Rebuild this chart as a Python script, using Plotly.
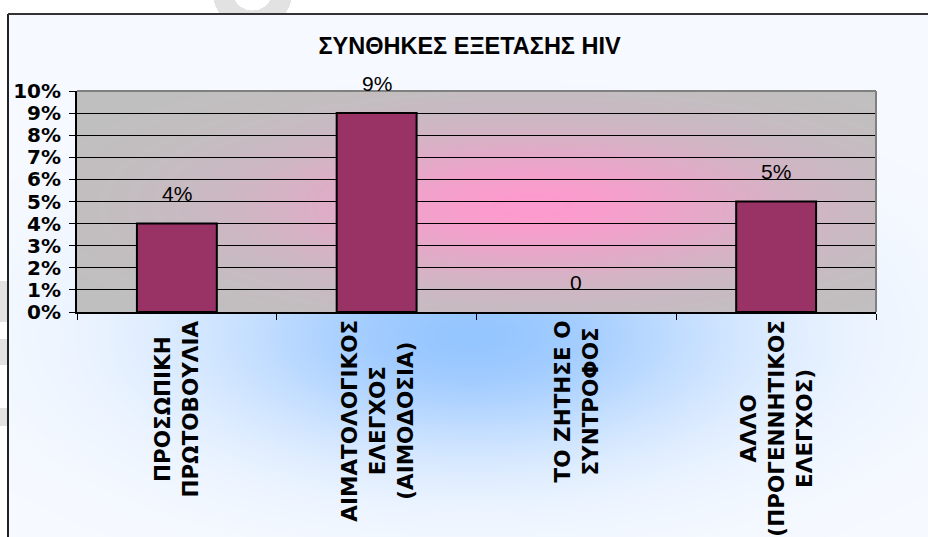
import base64
import struct
import zlib

import numpy as np
import plotly.graph_objects as go

# ---- data -------------------------------------------------------------
categories = [
    "ΠΡΟΣΩΠΙΚΗ ΠΡΩΤΟΒΟΥΛΙΑ",
    "ΑΙΜΑΤΟΛΟΓΙΚΟΣ ΕΛΕΓΧΟΣ (ΑΙΜΟΔΟΣΙΑ)",
    "ΤΟ ΖΗΤΗΣΕ Ο ΣΥΝΤΡΟΦΟΣ",
    "ΑΛΛΟ (ΠΡΟΓΕΝΝΗΤΙΚΟΣ ΕΛΕΓΧΟΣ)",
]
category_labels = [
    "ΠΡΟΣΩΠΙΚΗ<br>ΠΡΩΤΟΒΟΥΛΙΑ",
    "ΑΙΜΑΤΟΛΟΓΙΚΟΣ<br>ΕΛΕΓΧΟΣ<br>(ΑΙΜΟΔΟΣΙΑ)",
    "ΤΟ ΖΗΤΗΣΕ Ο<br>ΣΥΝΤΡΟΦΟΣ",
    "ΑΛΛΟ<br>(ΠΡΟΓΕΝΝΗΤΙΚΟΣ<br>ΕΛΕΓΧΟΣ)",
]
shares = [0.04, 0.09, 0.0, 0.05]
share_labels = ["4%", "9%", "0", "5%"]
y_ticks = [i / 100 for i in range(11)]
chart_title = "ΣΥΝΘΗΚΕΣ ΕΞΕΤΑΣΗΣ HIV"

# ---- page geometry (pixels) ------------------------------------------
W, H = 928, 537
ML, MR, MT, MB = 77, 52, 91, 225
PW, PH = W - ML - MR, H - MT - MB
FRAME_X, FRAME_Y = 8, 14


def px_to_paper_x(px):
    return (px - ML) / PW


def px_to_paper_y(py):
    return (H - MB - py) / PH


def png_uri(rgb):
    """Encode an HxWx3 uint8 array as a PNG data URI."""
    h, w, _ = rgb.shape
    flat = rgb.reshape(h, w * 3).astype(np.int16)
    diff = flat.copy()
    diff[:, 3:] = flat[:, 3:] - flat[:, :-3]
    raw = np.zeros((h, 1 + w * 3), dtype=np.uint8)
    raw[:, 0] = 1
    raw[:, 1:] = (diff % 256).astype(np.uint8)

    def chunk(tag, data):
        return (struct.pack(">I", len(data)) + tag + data
                + struct.pack(">I", zlib.crc32(tag + data) & 0xFFFFFFFF))

    png = (b"\x89PNG\r\n\x1a\n"
           + chunk(b"IHDR", struct.pack(">IIBBBBB", w, h, 8, 2, 0, 0, 0))
           + chunk(b"IDAT", zlib.compress(raw.tobytes(), 9))
           + chunk(b"IEND", b""))
    return "data:image/png;base64," + base64.b64encode(png).decode()


def blend(base, glow, weight):
    base = np.array(base, dtype=float)
    glow = np.array(glow, dtype=float)
    return base[None, None, :] * (1 - weight[..., None]) + glow[None, None, :] * weight[..., None]


# page backdrop: pale sheet with a soft blue glow under the plot
yy, xx = np.mgrid[0:H, 0:W].astype(float)
w_blue = np.exp(-(((xx - 470) / 270) ** 2 + ((yy - 335) / 120) ** 2))
page = blend((247, 250, 255), (150, 198, 255), w_blue)
outside = (xx < FRAME_X) | (yy < FRAME_Y)
page[outside] = 255
# faint watermark strokes left of / above the frame
ring_d = np.hypot(xx - 252, yy + 10)
wm = outside & (ring_d > 20) & (ring_d < 40)
wm |= (xx < 7) & (((yy > 280) & (yy < 322)) | ((yy > 338) & (yy < 365)) | ((yy > 407) & (yy < 426)))
page[wm] = 226
page_img = np.clip(page, 0, 255).astype(np.uint8)

# plot area fill: grey with a pink glow
ph, pw = 221, 799
vv, uu = np.mgrid[0:ph, 0:pw].astype(float)
w_pink = np.exp(-(((uu - 455) / 250) ** 2 + ((vv - 115) / 72) ** 2))
plot_fill = np.clip(blend((192, 192, 192), (253, 155, 206), w_pink), 0, 255).astype(np.uint8)

fig = go.Figure()
fig.add_trace(go.Bar(
    x=categories,
    y=shares,
    marker=dict(
        color="#993366",
        line=dict(color="#000000", width=[2 if v > 0 else 0 for v in shares]),
    ),
    hoverinfo="skip",
))

annotations = []
for cat, val, lab in zip(categories, shares, share_labels):
    annotations.append(dict(
        x=cat, y=val, xref="x", yref="y", text=lab, showarrow=False,
        yshift=30, yanchor="middle",
        font=dict(family="Liberation Sans, Arial, sans-serif", size=21, color="#000000"),
    ))
for cat, lab in zip(categories, category_labels):
    annotations.append(dict(
        x=cat, y=0, xref="x", yref="paper", text=lab, showarrow=False,
        textangle=-90, align="center", xanchor="center", yanchor="top", yshift=-6,
        font=dict(family="DejaVu Sans, sans-serif", size=21.5, color="#000000", weight="bold"),
    ))

shapes = [
    # chart frame (left and top edges)
    dict(type="line", xref="paper", yref="paper",
         x0=px_to_paper_x(FRAME_X), x1=px_to_paper_x(FRAME_X),
         y0=px_to_paper_y(FRAME_Y), y1=px_to_paper_y(H + 5),
         line=dict(color="#222222", width=2)),
    dict(type="line", xref="paper", yref="paper",
         x0=px_to_paper_x(FRAME_X), x1=px_to_paper_x(W + 5),
         y0=px_to_paper_y(FRAME_Y), y1=px_to_paper_y(FRAME_Y),
         line=dict(color="#333333", width=2)),
    # grey plot-area border on top and right
    dict(type="line", xref="paper", yref="paper", x0=0, x1=1, y0=1, y1=1,
         line=dict(color="#808080", width=2)),
    dict(type="line", xref="paper", yref="paper", x0=1, x1=1, y0=0, y1=1,
         line=dict(color="#808080", width=2)),
]

images = [
    dict(source=png_uri(page_img), xref="paper", yref="paper",
         x=px_to_paper_x(0), y=px_to_paper_y(0), sizex=W / PW, sizey=H / PH,
         xanchor="left", yanchor="top", sizing="stretch", layer="below"),
    dict(source=png_uri(plot_fill), xref="paper", yref="paper",
         x=0, y=1, sizex=1, sizey=1,
         xanchor="left", yanchor="top", sizing="stretch", layer="below"),
]

fig.update_layout(
    width=W, height=H, autosize=False,
    margin=dict(l=ML, r=MR, t=MT, b=MB, pad=0),
    paper_bgcolor="#ffffff",
    plot_bgcolor="rgba(0,0,0,0)",
    bargap=0.6,
    showlegend=False,
    title=dict(
        text=chart_title, x=0.506, xanchor="center", y=1 - 46 / H, yanchor="middle",
        font=dict(family="Liberation Sans, Arial, sans-serif", size=23.5, color="#000000", weight="bold"),
    ),
    xaxis=dict(
        type="category", showgrid=False, showline=True, linecolor="#000000", linewidth=2,
        ticks="outside", tickson="boundaries", ticklen=6, tickcolor="#000000", tickwidth=1,
        showticklabels=False, fixedrange=True,
    ),
    yaxis=dict(
        range=[0, 0.10], tickvals=y_ticks, tickformat=".0%",
        showgrid=True, gridcolor="#000000", gridwidth=1, zeroline=False,
        showline=True, linecolor="#000000", linewidth=2,
        ticks="outside", ticklen=6, tickcolor="#000000", tickwidth=1,
        ticklabelstandoff=4,
        tickfont=dict(family="DejaVu Sans, sans-serif", size=20, color="#000000", weight="bold"),
        fixedrange=True,
    ),
    annotations=annotations,
    shapes=shapes,
    images=images,
)

fig.write_html("out.html", config={"displayModeBar": False})
